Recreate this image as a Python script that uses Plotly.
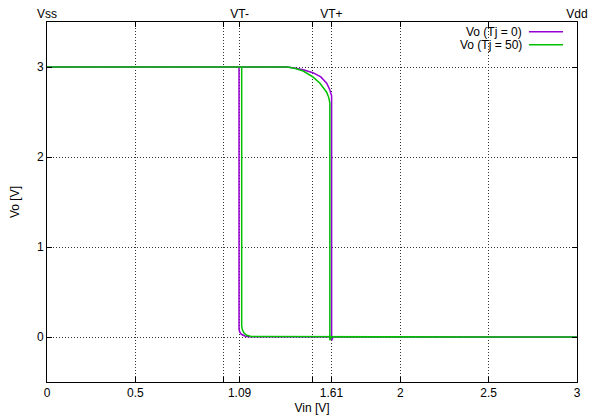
import plotly.graph_objects as go

# ---- data ----
# Tj = 0 : sweep up, then sweep down
vin_up_t0 = [0.0, 1.357, 1.40, 1.45, 1.505, 1.55, 1.583, 1.60, 1.611, 1.611, 1.62, 3.0]
vo_up_t0 = [3.0, 3.0, 2.99, 2.97, 2.937, 2.89, 2.82, 2.75, 2.68, -0.037, 0.0, 0.0]
vin_dn_t0 = [3.0, 1.16, 1.14, 1.12, 1.10, 1.09, 1.087, 1.087, 0.0]
vo_dn_t0 = [0.0, 0.0, 0.004, 0.012, 0.03, 0.06, 0.09, 3.0, 3.0]

# Tj = 50 : sweep up, then sweep down
vin_up_t50 = [0.0, 1.36, 1.40, 1.45, 1.505, 1.545, 1.583, 1.595, 1.601, 1.601, 1.61, 3.0]
vo_up_t50 = [3.0, 3.0, 2.985, 2.955, 2.89, 2.82, 2.72, 2.66, 2.60, -0.035, 0.0, 0.0]
vin_dn_t50 = [3.0, 1.19, 1.155, 1.13, 1.115, 1.106, 1.102, 1.102, 0.0]
vo_dn_t50 = [0.0, 0.0, 0.006, 0.02, 0.045, 0.08, 0.12, 3.0, 3.0]

series_names = ["Vo (Tj = 0)", "Vo (Tj = 50)"]
series_colors = ["#9400D3", "#00C000"]

x_tickvals = [0, 0.5, 1.0, 1.09, 1.5, 1.61, 2, 2.5, 3]
x_ticktext = ["0", "0.5", "", "1.09", "", "1.61", "2", "2.5", "3"]
x2_tickvals = [0, 1.09, 1.61, 3]
x2_ticktext = ["Vss", "VT-", "VT+", "Vdd"]
y_tickvals = [0, 1, 2, 3]

FONT = "Liberation Sans, Arial, sans-serif"
FS = 12

fig = go.Figure()
fig.add_trace(go.Scatter(x=vin_up_t0 + vin_dn_t0, y=vo_up_t0 + vo_dn_t0, mode="lines",
                         line=dict(color=series_colors[0], width=1.5), name=series_names[0],
                         showlegend=False))
fig.add_trace(go.Scatter(x=vin_up_t50 + vin_dn_t50, y=vo_up_t50 + vo_dn_t50, mode="lines",
                         line=dict(color=series_colors[1], width=1.5), name=series_names[1],
                         showlegend=False))
# invisible trace to anchor the top axis
fig.add_trace(go.Scatter(x=x2_tickvals, y=[None] * len(x2_tickvals), xaxis="x2", mode="markers",
                         marker=dict(opacity=0), showlegend=False, hoverinfo="skip"))

# legend drawn like gnuplot: right-aligned text, sample line at right
L = 47; R = 577; T = 22.3; B = 381.7
def px(xp):
    return (xp - L) / (R - L)
def py(yp):
    return (B - yp) / (B - T)

for i, (name, col) in enumerate(zip(series_names, series_colors)):
    yy = 32.0 + i * 13.0
    fig.add_annotation(x=px(524), y=py(yy), xref="paper", yref="paper", text=name,
                       showarrow=False, xanchor="right", yanchor="middle",
                       font=dict(family=FONT, size=FS, color="black"))
    fig.add_shape(type="line", xref="paper", yref="paper", x0=px(529), x1=px(563),
                  y0=py(yy), y1=py(yy), line=dict(color=col, width=1.5))

axis_common = dict(showline=True, linecolor="black", linewidth=1, zeroline=False,
                   ticks="inside", ticklen=5, tickcolor="black", automargin=False,
                   tickfont=dict(family=FONT, size=FS, color="black"))

GRID_DASH = "1px,2px"

fig.update_layout(
    width=600, height=420,
    margin=dict(l=47, r=23, t=22, b=38),
    paper_bgcolor="white", plot_bgcolor="white",
    font=dict(family=FONT, size=FS, color="black"),
    xaxis=dict(range=[0, 3], tickvals=x_tickvals, ticktext=x_ticktext, mirror="ticks",
               showgrid=True, gridcolor="#333333", griddash=GRID_DASH, gridwidth=1,
               title=dict(text="Vin [V]", font=dict(family=FONT, size=FS), standoff=4),
               **axis_common),
    xaxis2=dict(range=[0, 3], overlaying="x", side="top", tickvals=x2_tickvals,
                ticktext=x2_ticktext, showgrid=False, showline=False, zeroline=False,
                ticks="", ticklabelstandoff=1, automargin=False,
                tickfont=dict(family=FONT, size=FS, color="black")),
    yaxis=dict(range=[-0.5, 3.5], tickvals=y_tickvals, mirror="ticks",
               showgrid=True, gridcolor="#333333", griddash=GRID_DASH, gridwidth=1,
               title=dict(text="Vo [V]", font=dict(family=FONT, size=FS), standoff=14),
               **axis_common),
)

fig.write_html("out.html", post_script="document.body.style.margin='0';",
               config={"displayModeBar": False})
